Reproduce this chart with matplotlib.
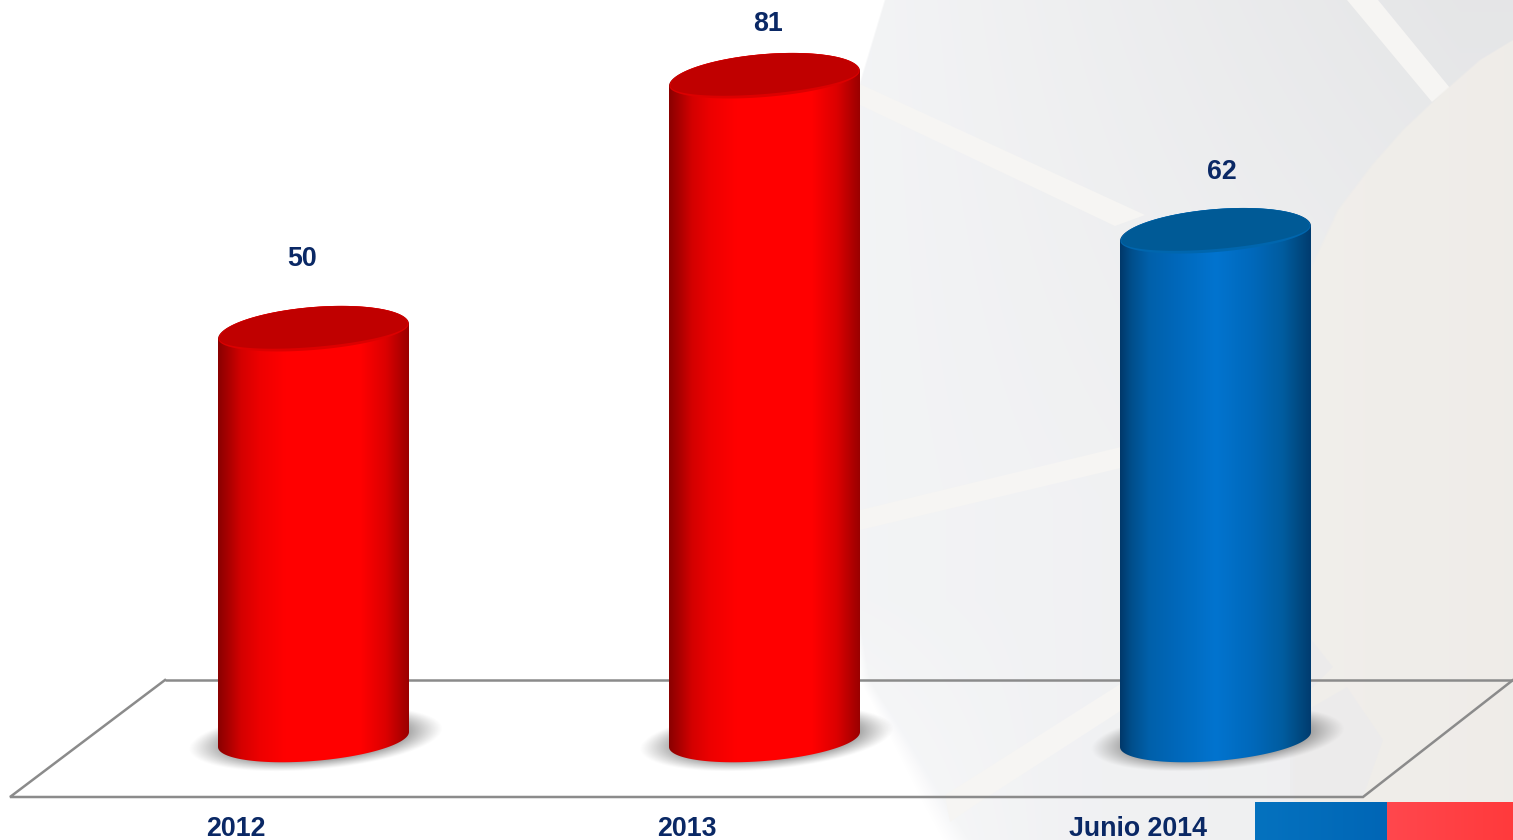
import numpy as np
import matplotlib
matplotlib.use("Agg")
import matplotlib.pyplot as plt
from matplotlib.colors import LinearSegmentedColormap, to_rgb
from matplotlib.patches import Polygon

# ---- data ----
categories = ["2012", "2013", "Junio 2014"]
values = [50, 81, 62]
bar_palette = ["red", "red", "blue"]

# ---- layout (pixels of the 1513x840 figure) ----
W, H = 1513, 840
PX_ZERO = 739.5
PX_PER_UNIT = 8.16
PX_FIRST = 313.5
PX_STEP = 451.0
PX_AXIS_BOTTOM = 797
HALF_W = 95.5 / PX_STEP
CAP_B = 24.5 / PX_PER_UNIT
BASE_B = 21.5 / PX_PER_UNIT
INNER_B = 15.5 / PX_PER_UNIT
MID_B = 18.5 / PX_PER_UNIT
CAP_S = 7.5 / PX_PER_UNIT
LABEL_OFFSET = [(-11.5, 72.5), (3.0, 54.8), (6.5, 61.5)]
TICK_SHIFT = -77.5 / PX_STEP
TEXT = "#0a2865"
FONT = "Liberation Sans"

STYLES = {
    "red": dict(stops=[(0, "#8a0000"), (.05, "#a80000"), (.12, "#d40000"), (.22, "#ee0000"), (.35, "#ff0000"),
                       (.75, "#ff0000"), (.88, "#dc0000"), (.96, "#b00000"), (1, "#9a0000")],
                cap="#c00000", cap_mid="#dc0000"),
    "blue": dict(stops=[(0, "#00386a"), (.06, "#004f8c"), (.15, "#0060aa"), (.3, "#0068bb"), (.5, "#0274cf"),
                        (.7, "#0068ba"), (.85, "#005c9f"), (.95, "#00477d"), (1, "#003a6e")],
                 cap="#005a96", cap_mid="#0066ae"),
}

fig = plt.figure(figsize=(W / 100, H / 100), dpi=100)

# ---- background ----
bg = fig.add_axes([0, 0, 1, 1], zorder=0)
bg.axis("off")

xx, yy = np.meshgrid(np.arange(W) + .5, np.arange(H) + .5)


def region_image(edge_y, edge_x, rgb, soft):
    edge = np.interp(yy, edge_y, edge_x)
    alpha = np.clip((xx - edge) / soft + .5, 0, 1)
    return np.dstack([rgb, alpha])


t = np.clip((xx - 860) / 600, 0, 1)
v = np.clip(1 - yy / 500, 0, 1)
low = np.clip((yy - 600) / 240, 0, 1) * (1 - np.clip((xx - 860) / 200, 0, 1))
lum = 0.958 - 0.055 * t * (0.4 + 0.6 * v) + 0.02 * low
light_rgb = np.dstack([lum * 0.995, lum * 0.998, lum * 1.004]).clip(0, 1)
soft_light = 2 + 26 * np.clip((yy - 600) / 240, 0, 1)

bg.imshow(region_image([0, 90, 300, 600, 680, 740, 800, 840],
                       [885, 858, 848, 855, 865, 900, 933, 957], light_rgb, soft_light),
          extent=(0, W, H, 0), aspect="auto", zorder=1, interpolation="bilinear")

band = "#f6f5f3"
for pts in ([(860, 84), (1145, 215), (1115, 226), (860, 105)],
            [(860, 510), (1125, 446), (1125, 467), (860, 530)],
            [(945, 795), (1125, 681), (1125, 708), (975, 805), (950, 822)],
            [(1347, 0), (1378, 0), (1450, 88), (1432, 102)]):
    bg.add_patch(Polygon(pts, closed=True, fc=band, ec="none", zorder=2))

bt = np.clip((xx - 1300) / 213, 0, 1)
beige_rgb = np.dstack([0.943 - 0.006 * bt, 0.935 - 0.008 * bt, 0.920 - 0.008 * bt])
bg.imshow(region_image([0, 40, 60, 95, 130, 165, 210, 265, 330, 400, 500, 840],
                       [1620, 1513, 1480, 1440, 1403, 1372, 1338, 1312, 1298, 1293, 1292, 1295],
                       beige_rgb, 3.0),
          extent=(0, W, H, 0), aspect="auto", zorder=3, interpolation="bilinear")
for pts in ([(1280, 600), (1333, 667), (1300, 700), (1280, 700)],
            [(1347, 687), (1383, 740), (1363, 797), (1290, 797), (1290, 720)]):
    bg.add_patch(Polygon(pts, closed=True, fc="#ebebec", ec="none", alpha=.7, zorder=4))

# flag strip
for x0, x1, c0, c1 in ((1255, 1387, "#0572bf", "#0066b6"), (1387, W, "#ff474d", "#ff3a3c")):
    grad = np.linspace(0, 1, 64)[None, :, None]
    img = np.array(to_rgb(c0))[None, None, :] * (1 - grad) + np.array(to_rgb(c1))[None, None, :] * grad
    bg.imshow(img, extent=(x0, x1, H, 802), aspect="auto", zorder=5)

# floor plane
bg.plot([165, W], [680, 680], color="#8b8b8b", lw=1.8, zorder=6, solid_capstyle="butt")
bg.plot([W, 1363, 10, 165], [680, 797, 797, 680], color="#8b8b8b", lw=1.8, zorder=6,
        solid_joinstyle="miter")
bg.set_xlim(0, W)
bg.set_ylim(H, 0)

# ---- chart axes, drawn from the data ----
ax_h = PX_AXIS_BOTTOM / H
ax = fig.add_axes([0, 1 - ax_h, 1, ax_h], zorder=1)
ax.patch.set_visible(False)
for s in ax.spines.values():
    s.set_visible(False)
xlim = (-PX_FIRST / PX_STEP, (W - PX_FIRST) / PX_STEP)
ylim = (-(PX_AXIS_BOTTOM - PX_ZERO) / PX_PER_UNIT, PX_ZERO / PX_PER_UNIT)
xpos = np.arange(len(values))
ax.set_yticks([])
ax.set_xticks(xpos + TICK_SHIFT, categories, fontsize=19.3, fontweight="bold",
              family=FONT, color=TEXT)
ax.tick_params(axis="x", length=0, pad=14)

t_arc = np.linspace(0, np.pi, 90)


def cap_path(cx, cy, a, upper_b, lower_b):
    up = np.c_[cx + a * np.cos(t_arc), cy + CAP_S * np.cos(t_arc) + upper_b * np.sin(t_arc)]
    lo = np.c_[cx - a * np.cos(t_arc), cy - CAP_S * np.cos(t_arc) - lower_b * np.sin(t_arc)]
    return np.r_[up, lo]


for x, val, key in zip(xpos, values, bar_palette):
    st = STYLES[key]
    # soft floor shadow
    gx = np.linspace(x - 0.33, x + 0.33, 280)
    gy = np.linspace(-6.5, 6.5, 140)
    GX, GY = np.meshgrid(gx, gy)
    X = (GX - (x + 0.004)) / (127 / PX_STEP)
    Y = (GY - 0.1 - 1.25 * X) / (31 / PX_PER_UNIT)
    r = np.hypot(X, Y)
    al = 0.72 * np.clip((1.0 - r) / 0.3, 0, 1) ** 1.1
    shadow = np.dstack([np.full_like(al, .47), np.full_like(al, .47), np.full_like(al, .47), al])
    ax.imshow(shadow, extent=(gx[0], gx[-1], gy[0], gy[-1]), origin="lower",
              aspect="auto", zorder=2, interpolation="bilinear")

    # cylinder body with horizontal shading
    cmap = LinearSegmentedColormap.from_list(key, st["stops"])
    im = ax.imshow(np.linspace(0, 1, 256)[None, :], cmap=cmap,
                   extent=(x - HALF_W, x + HALF_W, -CAP_B - CAP_S - 1, val + CAP_B + CAP_S + 1),
                   aspect="auto", zorder=3, origin="lower")
    bottom = np.c_[x - HALF_W * np.cos(t_arc), -CAP_S * np.cos(t_arc) - BASE_B * np.sin(t_arc)]
    top = np.c_[x + HALF_W * np.cos(t_arc), val + CAP_S * np.cos(t_arc) + CAP_B * np.sin(t_arc)]
    outline = Polygon(np.r_[bottom, top], closed=True, transform=ax.transData, fc="none", ec="none")
    ax.add_patch(outline)
    im.set_clip_path(outline)

    # top cap
    ax.add_patch(Polygon(cap_path(x, val, HALF_W * 0.995, CAP_B, MID_B),
                         closed=True, fc=st["cap_mid"], ec="none", zorder=4))
    ax.add_patch(Polygon(cap_path(x, val, HALF_W * 0.985, CAP_B * 0.99, INNER_B),
                         closed=True, fc=st["cap"], ec="none", zorder=5))

ax.set_xlim(*xlim)
ax.set_ylim(*ylim)

# value labels
for x, val, off in zip(xpos, values, LABEL_OFFSET):
    ax.annotate(str(val), xy=(x, val), xycoords="data",
                xytext=(off[0] * 0.72, off[1] * 0.72), textcoords="offset points",
                ha="center", va="center", fontsize=19.3, fontweight="bold",
                family=FONT, color=TEXT, zorder=6, annotation_clip=False)

fig.savefig("out.png", dpi=100)
